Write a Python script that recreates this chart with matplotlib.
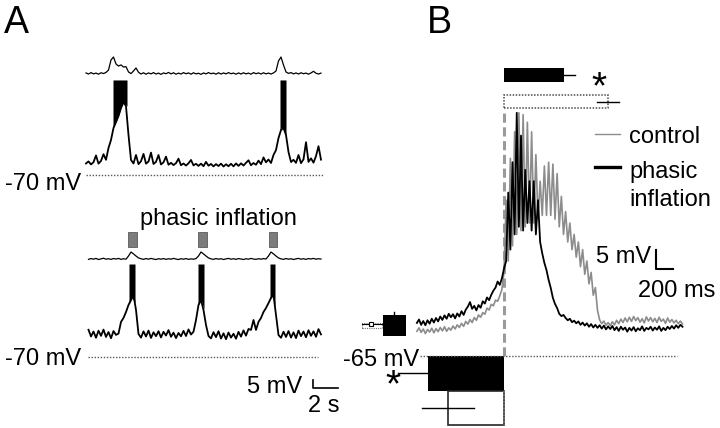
import numpy as np
import matplotlib
matplotlib.use("Agg")
import matplotlib.pyplot as plt
from matplotlib.lines import Line2D

plt.rcParams['font.family'] = ['Liberation Sans', 'DejaVu Sans']

# ---------------- data ----------------
# panel A: sweeps sampled every 0.2 s (s, mV); phrenic traces are in arbitrary units
a_dt = 0.2
a_top_vm = [-62.8, -61.5, -63.4, -62.0, -57.8, -62.9, -61.2, -57.0, -60.5, -53.1,
            -48.1, -40.6, -36.9, -33.1, -28.1, -24.4, -27.0, -45.0, -60.6, -62.8,
            -57.5, -63.2, -61.4, -56.8, -62.9, -61.6, -56.0, -63.1, -61.8, -57.5,
            -63.4, -62.1, -58.5, -63.6, -62.4, -63.8, -62.6, -59.8, -63.9, -62.8,
            -64.1, -62.7, -60.6, -64.0, -63.0, -64.3, -62.9, -64.5, -61.8, -64.2,
            -63.1, -64.6, -63.2, -64.4, -62.9, -64.7, -63.3, -64.5, -63.0, -64.6,
            -62.8, -64.3, -62.7, -64.1, -62.4, -60.8, -63.9, -62.5, -63.6, -61.0,
            -63.2, -59.0, -62.1, -60.3, -62.5, -57.5, -54.4, -46.9, -41.9, -40.6,
            -45.0, -55.6, -61.9, -60.5, -62.4, -57.5, -62.6, -60.2, -49.5, -61.8,
            -59.6, -62.3, -58.2, -52.0, -60.4]
a_top_phr = [-6.2, -6.9, -6.0, -6.8, -6.3, -7.0, -6.1, -6.6, -5.9, -4.4,
             1.9, 3.75, -0.6, -1.9, -1.2, -2.5, -2.3, -5.6, -6.6, -5.0,
             -3.1, -5.8, -6.9, -6.1, -7.0, -6.2, -6.8, -6.0, -6.9, -6.3,
             -7.1, -6.2, -6.7, -5.9, -6.8, -6.1, -7.0, -6.3, -6.9, -6.0,
             -6.7, -6.2, -7.0, -6.1, -6.8, -6.4, -7.1, -6.2, -6.8, -6.0,
             -6.7, -6.3, -7.0, -6.1, -6.9, -6.2, -6.8, -6.0, -6.7, -6.3,
             -7.0, -6.2, -6.9, -6.1, -6.8, -6.3, -7.0, -6.0, -6.7, -6.2,
             -6.9, -6.1, -6.8, -6.3, -6.9, -6.2, -5.0, 1.25, 3.75, -1.25,
             -5.6, -6.5, -6.0, -6.8, -6.2, -6.9, -6.1, -6.7, -6.3, -7.0,
             -6.2, -5.2, -6.4, -6.9, -6.3]
a_top_burst_t = [[2.16, 2.4, 2.6, 2.8, 3.0, 3.28], [15.52, 15.76, 16.0]]
a_top_burst_lo = [[-40.6, -36.9, -33.0, -28.0, -24.4, -27.0], [-41.9, -40.6, -45.0]]
a_top_spike_peak = -10.6

a_bot_vm = [-56.5, -53.0, -57.2, -54.1, -58.0, -53.6, -56.8, -52.9, -57.5, -54.4,
            -58.3, -53.8, -56.2, -55.4, -48.1, -45.6, -41.9, -37.5, -34.4, -31.3,
            -40.6, -55.6, -57.9, -54.0, -57.2, -53.5, -58.1, -54.6, -57.0, -53.9,
            -57.8, -54.3, -56.6, -53.2, -57.4, -54.8, -58.2, -55.0, -57.1, -53.7,
            -56.9, -52.8, -56.0, -54.2, -46.9, -37.5, -34.4, -40.6, -50.0, -56.9,
            -58.4, -54.5, -57.6, -53.9, -58.5, -55.2, -58.9, -54.7, -57.9, -55.5,
            -58.6, -54.3, -57.3, -53.4, -56.7, -52.5, -53.1, -46.9, -53.1, -48.1,
            -45.6, -41.9, -39.4, -36.3, -33.1, -31.3, -43.8, -56.3, -58.0, -54.2,
            -57.5, -53.8, -57.9, -54.6, -58.2, -53.5, -57.0, -54.1, -57.7, -53.3,
            -56.8, -54.0, -57.4, -52.6, -55.9]
a_bot_phr = [-8.6, -9.0, -8.5, -8.9, -8.4, -9.1, -8.7, -8.3, -8.9, -8.6,
             -9.0, -8.5, -8.8, -8.4, -9.0, -8.6, -8.9, -6.9, -4.4, -5.6,
             -6.9, -8.1, -8.6, -9.0, -8.5, -8.9, -8.4, -8.8, -9.1, -8.6,
             -8.9, -8.5, -9.0, -8.6, -8.9, -8.4, -8.8, -9.1, -8.6, -8.9,
             -8.5, -9.0, -8.7, -8.9, -8.5, -6.9, -4.4, -5.6, -6.9, -8.1,
             -8.7, -9.0, -8.5, -8.9, -8.6, -9.1, -8.7, -8.4, -8.9, -8.6,
             -9.0, -8.5, -8.8, -9.1, -8.6, -8.9, -8.4, -8.8, -9.0, -8.6,
             -8.9, -8.5, -8.8, -6.9, -4.4, -5.6, -6.9, -8.1, -8.7, -9.0,
             -8.5, -8.9, -8.6, -9.1, -8.7, -8.4, -8.9, -8.6, -9.0, -8.5,
             -8.8, -8.4, -8.9, -8.6, -8.8]
a_bot_burst_t = [[3.44, 3.68, 3.92], [8.96, 9.2, 9.44], [14.72, 14.92, 15.12]]
a_bot_burst_lo = [[-37.0, -33.0, -36.0], [-38.0, -34.4, -40.0], [-34.0, -31.5, -38.0]]
a_bot_spike_peak = -11.9
inflation_on = [3.36, 8.96, 14.64]
inflation_off = [4.08, 9.68, 15.28]

# panel B: averaged sweeps sampled every 25 ms from -1025 ms (0 = inflation onset)
b_t0, b_dt = -1025, 25
b_control = [-58.5, -57.6, -58.8, -57.9, -59.1, -58.0, -58.7, -57.7, -58.9, -57.8,
             -58.6, -57.5, -58.4, -57.3, -58.5, -57.6, -58.2, -57.1, -57.9, -56.8,
             -57.5, -56.4, -57.2, -55.9, -56.6, -55.4, -56.2, -54.9, -55.6, -54.2,
             -54.8, -53.6, -54.0, -52.4, -52.9, -51.4, -51.8, -50.3, -50.6, -49.2,
             -47.5, -43.0, -24.0, -40.0, -13.0, -36.0, -6.0, -33.0, -1.0, -32.0,
             -1.5, -31.0, -3.5, -30.0, -6.0, -30.0, -12.0, -29.0, -19.0, -28.0,
             -15.0, -28.0, -14.0, -28.0, -14.5, -29.0, -17.0, -31.0, -23.0, -33.0,
             -27.0, -35.0, -30.0, -37.0, -33.0, -39.0, -35.0, -41.5, -37.0, -43.5,
             -40.0, -46.0, -43.0, -49.0, -47.0, -53.0, -55.5, -56.5, -55.8, -56.9,
             -56.2, -57.0, -56.0, -56.8, -55.6, -56.5, -55.3, -56.2, -55.0, -56.0,
             -54.8, -55.9, -54.6, -55.7, -54.9, -56.1, -55.2, -56.3, -54.7, -55.8,
             -54.9, -56.0, -55.1, -56.2, -54.8, -55.9, -55.3, -56.4, -55.0, -56.1,
             -55.4, -56.3, -55.6, -56.5, -55.8, -56.6]
b_phasic = [-56.3, -55.4, -56.8, -55.8, -56.9, -55.6, -56.5, -55.2, -56.2, -55.0,
            -55.9, -54.6, -55.5, -54.3, -55.2, -53.9, -54.8, -54.0, -55.1, -53.8,
            -54.6, -53.2, -54.2, -52.8, -52.0, -50.8, -52.6, -51.8, -53.0, -51.6,
            -52.3, -50.6, -51.2, -49.6, -50.3, -48.9, -47.8, -47.0, -45.4, -46.3,
            -44.6, -42.0, -40.0, -22.0, -37.0, -14.0, -33.0, -1.0, -31.0, -7.0,
            -32.0, -16.0, -30.0, -19.0, -32.0, -19.0, -33.0, -24.0, -35.0, -38.0,
            -40.5, -42.4, -45.0, -47.1, -49.7, -51.3, -52.4, -53.9, -54.5, -54.2,
            -55.0, -55.6, -55.2, -56.1, -55.7, -56.4, -55.9, -56.8, -56.2, -57.0,
            -56.4, -57.3, -56.6, -57.5, -56.8, -57.6, -56.9, -57.8, -57.0, -58.0,
            -57.2, -57.9, -57.1, -58.2, -57.4, -58.4, -57.3, -58.1, -57.5, -58.6,
            -57.6, -58.3, -57.4, -58.5, -57.7, -58.2, -57.2, -58.4, -57.6, -58.0,
            -57.3, -58.3, -57.5, -58.1, -57.2, -58.4, -57.6, -58.2, -57.3, -57.9,
            -57.1, -57.8, -56.9, -57.6, -56.8, -57.3]

# burst duration (ms, mean, sem) and burst onset relative to inflation (ms)
dur_phasic, dur_phasic_sem = 700, 130
dur_control, dur_control_sem = 1225, 130
onset_phasic, onset_phasic_sem = -894, 353
onset_control, onset_control_sem = -659, 306

# ---------------- figure ----------------
W, H = 720, 428
fig = plt.figure(figsize=(7.2, 4.28), dpi=100)


def fx(x):
    return x / W


def fy(y):
    return 1 - y / H


def panel(x0, y0, x1, y1, xlim, ylim):
    ax = fig.add_axes([fx(x0), fy(y1), (x1 - x0) / W, (y1 - y0) / H])
    ax.set_xlim(*xlim)
    ax.set_ylim(*ylim)
    ax.set_axis_off()
    return ax


FS = 17
dotted = dict(color='0.35', lw=1.0, ls=(0, (1, 1.2)))

# ---- A top ----
ax1 = panel(80, 45, 345, 195, (-0.48, 20.72), (-82.5, 11.25))
t = a_dt * np.arange(len(a_top_vm))
ax1.plot(t, a_top_phr, color='k', lw=0.9)
ax1.plot(t, a_top_vm, color='k', lw=1.3)
for bt, lo in zip(a_top_burst_t, a_top_burst_lo):
    ax1.fill_between(bt, lo, a_top_spike_peak, color='k', lw=0)
ax1.plot([0, 18.96], [-70, -70], **dotted)

# ---- A bottom ----
ax2 = panel(80, 200, 345, 420, (-0.48, 20.72), (-109.4, 28.1))
t = a_dt * np.arange(len(a_bot_vm))
ax2.plot(t[1:], a_bot_phr[1:], color='k', lw=0.9)
ax2.plot(t[1:], a_bot_vm[1:], color='k', lw=1.3)
for bt, lo in zip(a_bot_burst_t, a_bot_burst_lo):
    ax2.fill_between(bt, lo, a_bot_spike_peak, color='k', lw=0)
for on, off in zip(inflation_on, inflation_off):
    ax2.bar(on, 9.35, width=off - on, bottom=-1.25, align='edge',
            color='#7c7c7c', edgecolor='#5a5a5a', lw=0.6)
ax2.plot([0.16, 18.56], [-70, -70], **dotted)
# scale bar 5 mV / 2 s
ax2.plot([18.16, 18.16, 20.16], [-84.4, -89.4, -89.4], color='k', lw=1.2)

# ---- B ----
ax3 = panel(340, 40, 720, 428, (-1929.5, 2541.2), (-83.95, 18.16))
tb = b_t0 + b_dt * np.arange(len(b_phasic))
ax3.plot([0, 0], [-65, -0.8], color='#9a9a9a', lw=2.2, dashes=(3, 1.5))
ax3.plot(tb, b_control, color='#8c8c8c', lw=1.2)
ax3.plot(tb, b_phasic, color='k', lw=1.3)
ax3.plot([-988, 2035], [-65, -65], **dotted)

# duration bars (top)
ax3.barh(8.95, dur_phasic, left=0, height=3.7, color='k')
ax3.plot([dur_phasic, dur_phasic + dur_phasic_sem], [8.95, 8.95], color='k', lw=1)
ax3.barh(1.97, dur_control, left=0, height=3.4, fill=False,
         edgecolor='0.3', lw=1.1, ls=(0, (1, 1)))
ax3.plot([dur_control - dur_control_sem, dur_control + dur_control_sem],
         [1.84, 1.84], color='k', lw=1)

# onset bars (bottom)
ax3.barh(-69.6, onset_phasic, left=0, height=9.2, color='k')
ax3.plot([onset_phasic, onset_phasic - onset_phasic_sem], [-69.5, -69.5], color='k', lw=1)
ax3.barh(-78.7, onset_control, left=0, height=8.95, fill=False, edgecolor='0.15', lw=1.2)
ax3.plot([0, 0], [-74.2, -83.15], color='0.5', lw=1.2, ls=(0, (1, 1)))
ax3.plot([onset_control - onset_control_sem, onset_control + onset_control_sem],
         [-78.7, -78.7], color='k', lw=1)

# small bars beside the baseline
ax3.bar(-1423, 5.5, width=270, bottom=-59.7, align='edge', color='k')
ax3.plot([-1290, -1290], [-54.2, -53.4], color='k', lw=1)
ax3.bar(-1670, 1.3, width=235, bottom=-57.6, align='edge', fill=False,
        edgecolor='0.45', lw=0.8, ls=(0, (1, 1)))
ax3.plot([-1670, -1423], [-56.6, -56.6], color='k', lw=0.8)
ax3.plot([-1560], [-56.6], marker='s', ms=3, mfc='white', mec='k', mew=0.8)

# scale bar 5 mV / 200 ms
ax3.plot([1788, 1788, 1988], [-37.1, -42.1, -42.1], color='k', lw=1.5)

# ---------------- text ----------------
fig.text(fx(4), fy(33), 'A', fontsize=27, va='baseline')
fig.text(fx(427), fy(33), 'B', fontsize=27, va='baseline')
fig.text(fx(81), fy(190), '-70 mV', fontsize=FS, va='baseline', ha='right')
fig.text(fx(81), fy(365), '-70 mV', fontsize=FS, va='baseline', ha='right')
fig.text(fx(419), fy(366), '-65 mV', fontsize=FS, va='baseline', ha='right')
fig.text(fx(218), fy(225), 'phasic inflation', fontsize=FS, va='baseline', ha='center')
fig.text(fx(302), fy(393), '5 mV', fontsize=FS, va='baseline', ha='right')
fig.text(fx(340), fy(412), '2 s', fontsize=FS, va='baseline', ha='right')
fig.text(fx(651), fy(263), '5 mV', fontsize=FS, va='baseline', ha='right')
fig.text(fx(715), fy(297), '200 ms', fontsize=FS, va='baseline', ha='right')
fig.text(fx(629), fy(143), 'control', fontsize=FS, va='baseline')
fig.text(fx(629), fy(178), 'phasic', fontsize=FS, va='baseline')
fig.text(fx(629), fy(206), 'inflation', fontsize=FS, va='baseline')
fig.text(fx(599), fy(98), '*', fontsize=28, va='baseline', ha='center')
fig.text(fx(393), fy(396), '*', fontsize=28, va='baseline', ha='center')

# legend lines
fig.add_artist(Line2D([fx(595), fx(620)], [fy(134), fy(134)], color='#8c8c8c', lw=1))
fig.add_artist(Line2D([fx(595), fx(620)], [fy(167), fy(167)], color='k', lw=2.4))

fig.savefig('out.png', dpi=100)
